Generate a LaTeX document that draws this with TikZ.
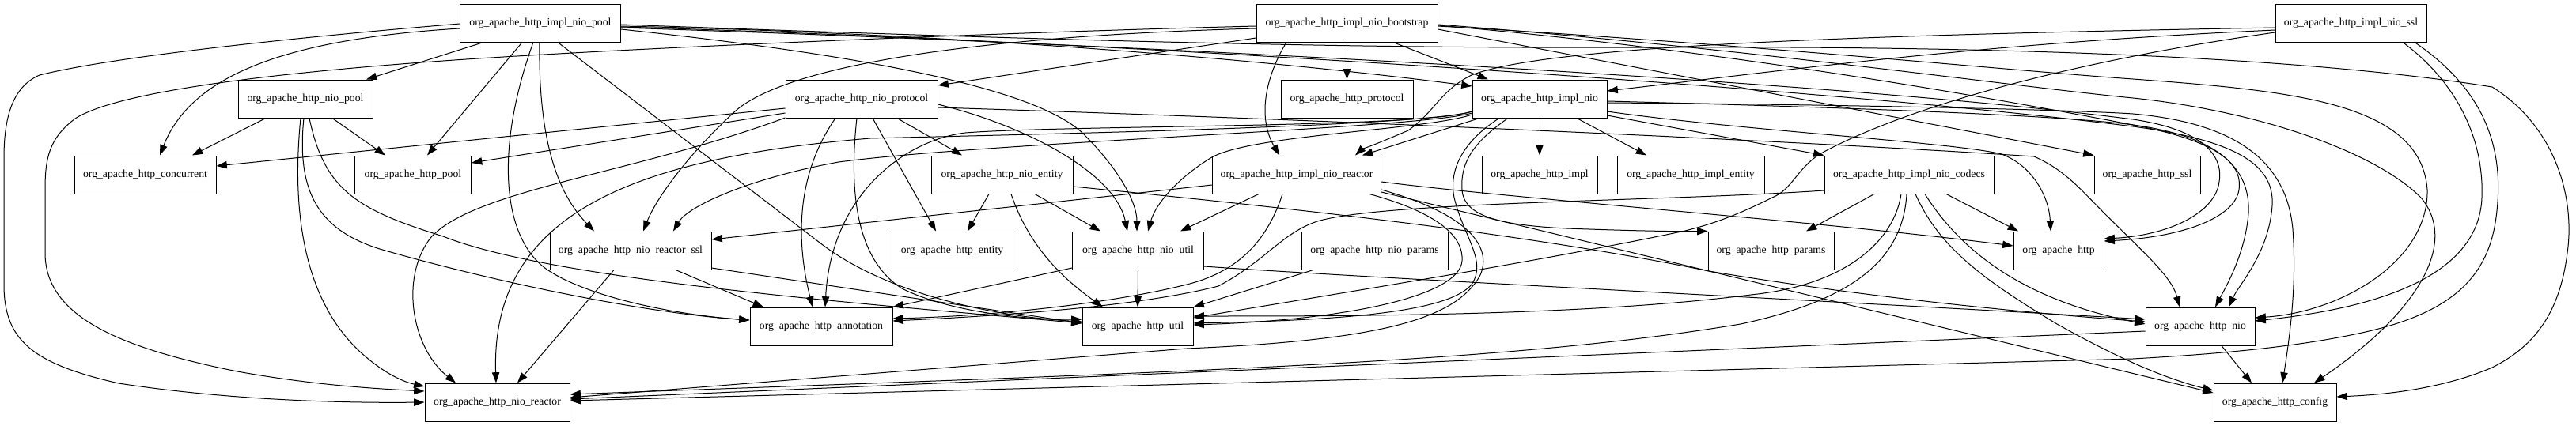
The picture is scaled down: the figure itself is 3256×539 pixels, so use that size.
\documentclass[tikz,border=0pt]{standalone}
\usepackage{fontspec}
\setmainfont{Liberation Serif}
\usetikzlibrary{arrows.meta}
\tikzset{
  pkg/.style={draw=black, line width=0.75pt, rectangle, minimum height=36pt, minimum width=#1, inner sep=0pt, font=\fontsize{10.3}{12}\selectfont},
  dep/.style={draw=black, line width=0.75pt, -{Triangle[length=10pt,width=7pt]}},
}
\begin{document}
\begin{tikzpicture}[x=0.75pt,y=-0.75pt]
\fill[white] (0,0) rectangle (3256,539);
\path[use as bounding box] (0,0) rectangle (3256,539);
% row 0
\node[pkg=152.25pt] (ipool) at (683,29) {org\_apache\_http\_impl\_nio\_pool};
\node[pkg=171.75pt] (iboot) at (1702.5,29) {org\_apache\_http\_impl\_nio\_bootstrap};
\node[pkg=143.25pt] (issl) at (2971.5,29) {org\_apache\_http\_impl\_nio\_ssl};
% row 1
\node[pkg=127.5pt] (npool) at (386,125) {org\_apache\_http\_nio\_pool};
\node[pkg=144pt] (nproto) at (1089,125) {org\_apache\_http\_nio\_protocol};
\node[pkg=125.25pt] (hproto) at (1702.5,125) {org\_apache\_http\_protocol};
\node[pkg=127.5pt] (inio) at (1946,125) {org\_apache\_http\_impl\_nio};
% row 2
\node[pkg=134.25pt] (conc) at (183.5,221) {org\_apache\_http\_concurrent};
\node[pkg=110.25pt] (hpool) at (522,221) {org\_apache\_http\_pool};
\node[pkg=134.25pt] (nent) at (1266.5,221) {org\_apache\_http\_nio\_entity};
\node[pkg=159.75pt] (ireact) at (1639,221) {org\_apache\_http\_impl\_nio\_reactor};
\node[pkg=109.5pt] (himpl) at (1946,221) {org\_apache\_http\_impl};
\node[pkg=139.5pt] (ient) at (2137,221) {org\_apache\_http\_impl\_entity};
\node[pkg=160.5pt] (icodec) at (2413,221) {org\_apache\_http\_impl\_nio\_codecs};
\node[pkg=100.5pt] (hssl) at (2714,221) {org\_apache\_http\_ssl};
% row 3
\node[pkg=153pt] (nrssl) at (797,317) {org\_apache\_http\_nio\_reactor\_ssl};
\node[pkg=114.75pt] (hent) at (1203.5,317) {org\_apache\_http\_entity};
\node[pkg=124.5pt] (nutil) at (1438.5,317) {org\_apache\_http\_nio\_util};
\node[pkg=138.75pt] (nparams) at (1737.5,317) {org\_apache\_http\_nio\_params};
\node[pkg=119.25pt] (hparams) at (2238.5,317) {org\_apache\_http\_params};
\node[pkg=85.5pt] (http) at (2602,317) {org\_apache\_http};
% row 4
\node[pkg=135pt] (annot) at (1038,413) {org\_apache\_http\_annotation};
\node[pkg=105pt] (hutil) at (1438,413) {org\_apache\_http\_util};
\node[pkg=103.5pt] (hnio) at (2781,413) {org\_apache\_http\_nio};
% row 5
\node[pkg=137.25pt] (nreact) at (628.5,509) {org\_apache\_http\_nio\_reactor};
\node[pkg=116.25pt] (hconf) at (2875.5,509) {org\_apache\_http\_config};

% ---- impl_nio_pool
\draw[dep] (ipool.west |- 0,36) .. controls (350,50) and (240,100) .. (conc.north -| 202,0);
\draw[dep] (ipool.west |- 0,30) .. controls (400,45) and (150,70) .. (50,95) .. controls (15,110) and (5,150) .. (5,200) -- (5,360) .. controls (5,430) and (40,460) .. (150,485) .. controls (300,508) and (450,510) .. (nreact.west |- 0,509);
\draw[dep] (ipool.south -| 611,0) -- (npool.north -| 463,0);
\draw[dep] (ipool.south -| 660,0) -- (hpool.north -| 540,0);
\draw[dep] (ipool.south -| 674,0) .. controls (625,190) and (635,300) .. (690,340) .. controls (740,375) and (850,398) .. (annot.west |- 0,405);
\draw[dep] (ipool.south -| 682,0) .. controls (680,200) and (715,255) .. (nrssl.north -| 751,0);
\draw[dep] (ipool.south -| 705,0) -- (1040,310) .. controls (1120,370) and (1250,400) .. (hutil.west |- 0,407);
\draw[dep] (ipool.east |- 0,37) .. controls (1000,60) and (1300,100) .. (1370,170) .. controls (1420,220) and (1437,260) .. (nutil.north -| 1437,0);
\draw[dep] (ipool.east |- 0,33) .. controls (1200,42) and (1600,75) .. (inio.west |- 0,109);
\draw[dep] (ipool.east |- 0,34) .. controls (1400,52) and (2300,110) .. (2696,160) .. controls (2830,178) and (2875,210) .. (2872,260) .. controls (2868,320) and (2830,360) .. (hnio.north -| 2817,0);
\draw[dep] (ipool.east |- 0,31) .. controls (1300,50) and (1700,62) .. (2100,60) .. controls (2500,58) and (2900,70) .. (3150,110) .. controls (3230,160) and (3255,250) .. (3245,320) .. controls (3235,400) and (3200,440) .. (3150,465) .. controls (3080,495) and (3000,500) .. (hconf.east |- 0,502);
\draw[dep] (ipool.east |- 0,35) .. controls (1400,55) and (2300,100) .. (2696,151) .. controls (2790,165) and (2810,200) .. (2805,230) .. controls (2800,270) and (2740,298) .. (http.east |- 0,302);

% ---- impl_nio_bootstrap
\draw[dep] (iboot.west |- 0,33) .. controls (1300,40) and (800,60) .. (560,77) .. controls (350,92) and (150,115) .. (95,150) .. controls (62,175) and (57,200) .. (57,240) -- (57,320) .. controls (57,400) and (150,440) .. (300,470) .. controls (400,488) and (480,492) .. (nreact.west |- 0,495);
\draw[dep] (iboot.west |- 0,36) .. controls (1250,45) and (1000,80) .. (930,140) .. controls (870,195) and (830,250) .. (nrssl.north -| 813,0);
\draw[dep] (iboot.west |- 0,48) -- (nproto.east |- 0,108);
\draw[dep] (iboot.south) -- (hproto.north);
\draw[dep] (iboot.south -| 1761,0) -- (inio.north -| 1881,0);
\draw[dep] (iboot.south -| 1626,0) .. controls (1598,100) and (1590,150) .. (ireact.north -| 1617,0);
\draw[dep] (iboot.east |- 0,33) .. controls (2200,55) and (2550,90) .. (2696,100) .. controls (2900,115) and (3060,130) .. (3068,240) .. controls (3070,330) and (2960,395) .. (hnio.east |- 0,402);
\draw[dep] (iboot.east |- 0,37) -- (hssl.north west);
\draw[dep] (iboot.east |- 0,31) .. controls (2200,60) and (2550,110) .. (2696,124) .. controls (2850,140) and (3000,190) .. (3060,250) .. controls (3110,310) and (3050,400) .. (hconf.north -| 2925,0);
\draw[dep] (iboot.east |- 0,32) .. controls (2200,65) and (2550,130) .. (2696,158) .. controls (2800,178) and (2835,205) .. (2830,240) .. controls (2825,275) and (2760,300) .. (http.east |- 0,305);

% ---- impl_nio_ssl
\draw[dep] (issl.west |- 0,38) .. controls (2500,55) and (2250,90) .. (inio.east |- 0,115);
\draw[dep] (issl.west |- 0,35) .. controls (2300,45) and (1950,60) .. (1860,95) .. controls (1820,115) and (1815,140) .. (1780,165) .. controls (1745,180) and (1720,190) .. (ireact.north -| 1713,0);
\draw[dep] (issl.west |- 0,41) .. controls (2600,80) and (2400,140) .. (2300,195) .. controls (2270,215) and (2265,240) .. (2240,250) .. controls (2200,270) and (2170,282) .. (2130,292) .. controls (1950,330) and (1700,370) .. (hutil.east |- 0,402);
\draw[dep] (issl.south -| 3037,0) .. controls (3100,100) and (3140,170) .. (3137,250) .. controls (3134,330) and (3050,385) .. (hnio.east |- 0,406);
\draw[dep] (issl.south -| 3052,0) .. controls (3150,120) and (3165,200) .. (3155,275) .. controls (3145,350) and (3100,395) .. (2990,420) .. controls (2900,440) and (2800,448) .. (2696,454) -- (nreact.east |- 0,507);

% ---- nio_pool
\draw[dep] (npool.south -| 336,0) -- (conc.north -| 243,0);
\draw[dep] (npool.south -| 420,0) -- (hpool.north -| 487,0);
\draw[dep] (npool.south -| 380,0) .. controls (368,270) and (385,380) .. (455,445) .. controls (480,468) and (505,482) .. (nreact.west |- 0,489);
\draw[dep] (npool.south -| 384,0) .. controls (375,240) and (400,290) .. (480,315) .. controls (600,350) and (800,395) .. (annot.west |- 0,405);
\draw[dep] (npool.south -| 391,0) .. controls (410,240) and (450,265) .. (560,299) .. controls (700,355) and (1100,385) .. (hutil.west |- 0,409);

% ---- nio_protocol
\draw[dep] (nproto.west |- 0,137) -- (conc.east |- 0,210);
\draw[dep] (nproto.west |- 0,143) -- (hpool.east |- 0,206);
\draw[dep] (nproto.west |- 0,149) .. controls (800,220) and (600,240) .. (545,300) .. controls (505,350) and (520,440) .. (nreact.north -| 576,0);
\draw[dep] (nproto.south -| 1056,0) .. controls (1000,230) and (1010,320) .. (annot.north -| 1027,0);
\draw[dep] (nproto.south -| 1083,0) .. controls (1072,250) and (1085,330) .. (1140,365) .. controls (1200,395) and (1300,405) .. (hutil.west |- 0,404);
\draw[dep] (nproto.south -| 1103,0) -- (hent.north -| 1183,0);
\draw[dep] (nproto.south -| 1134,0) -- (nent.north -| 1216,0);
\draw[dep] (nproto.east |- 0,132) .. controls (1300,160) and (1410,220) .. (nutil.north -| 1425,0);
\draw[dep] (nproto.east |- 0,136) .. controls (1700,152) and (2300,180) .. (2571,198) .. controls (2610,215) and (2630,240) .. (2660,270) .. controls (2710,320) and (2745,350) .. (hnio.north -| 2755,0);

% ---- impl_nio
\draw[dep] (inio.south -| 1870,0) -- (ireact.north -| 1722,0);
\draw[dep] (inio.south) -- (himpl.north);
\draw[dep] (inio.south -| 1993,0) -- (ient.north -| 2081,0);
\draw[dep] (inio.east |- 0,146) -- (icodec.north west);
\draw[dep] (inio.south -| 1906,0) .. controls (1870,175) and (1845,200) .. (1848,240) .. controls (1850,275) and (1900,285) .. (1980,289) .. controls (2060,292) and (2120,293) .. (hparams.north west);
\draw[dep] (inio.west |- 0,143) .. controls (1800,162) and (1250,180) .. (1060,205) .. controls (950,225) and (870,260) .. (nrssl.north -| 851,0);
\draw[dep] (inio.west |- 0,141) .. controls (1800,160) and (1300,170) .. (1100,175) .. controls (800,200) and (620,270) .. (nreact.north -| 627,0);
\draw[dep] (inio.west |- 0,141) .. controls (1800,162) and (1350,158) .. (1220,168) .. controls (1140,178) and (1050,250) .. (annot.north -| 1043,0);
\draw[dep] (inio.west |- 0,145) .. controls (1800,165) and (1580,170) .. (1530,200) .. controls (1485,228) and (1460,260) .. (nutil.north -| 1451,0);
\draw[dep] (inio.south -| 1895,0) .. controls (1855,175) and (1830,210) .. (1838,250) .. controls (1850,300) and (1880,330) .. (1860,360) .. controls (1830,395) and (1700,405) .. (hutil.east |- 0,409);
\draw[dep] (inio.east |- 0,141) .. controls (2200,165) and (2470,180) .. (2530,195) .. controls (2570,210) and (2590,250) .. (http.north -| 2592,0);
\draw[dep] (inio.east |- 0,128) .. controls (2300,135) and (2600,145) .. (2696,158) .. controls (2800,172) and (2845,210) .. (2842,270) .. controls (2838,320) and (2815,360) .. (hnio.north -| 2800,0);
\draw[dep] (inio.east |- 0,130) .. controls (2300,132) and (2600,138) .. (2696,144) .. controls (2820,155) and (2890,200) .. (2898,290) .. controls (2903,360) and (2895,420) .. (hconf.north -| 2885,0);

% ---- impl_nio_reactor
\draw[dep] (ireact.west |- 0,234) -- (nrssl.east |- 0,303);
\draw[dep] (ireact.south -| 1591,0) -- (nutil.north -| 1492,0);
\draw[dep] (ireact.south -| 1621,0) .. controls (1600,310) and (1560,345) .. (1500,360) .. controls (1400,385) and (1250,400) .. (annot.east |- 0,403);
\draw[dep] (ireact.south -| 1731,0) .. controls (1820,270) and (1850,300) .. (1848,330) .. controls (1845,375) and (1700,405) .. (hutil.east |- 0,411);
\draw[dep] (ireact.east |- 0,240) .. controls (1870,275) and (1885,320) .. (1870,350) .. controls (1840,400) and (1760,430) .. (1500,441) -- (nreact.east |- 0,503);
\draw[dep] (ireact.east |- 0,230) .. controls (1900,250) and (2300,280) .. (http.west |- 0,311);
\draw[dep] (ireact.east |- 0,243) -- (hconf.west |- 0,497);

% ---- nio_entity
\draw[dep] (nent.south -| 1250,0) -- (hent.north -| 1223,0);
\draw[dep] (nent.south -| 1308,0) -- (nutil.north -| 1391,0);
\draw[dep] (nent.south -| 1278,0) .. controls (1300,310) and (1340,350) .. (hutil.north -| 1394,0);
\draw[dep] (nent.east |- 0,236) .. controls (1700,270) and (1950,300) .. (2160,343) .. controls (2350,375) and (2550,395) .. (hnio.west |- 0,407);

% ---- nio_util, nio_params
\draw[dep] (nutil.south) -- (hutil.north -| 1438,0);
\draw[dep] (nutil.west |- 0,339) -- (annot.north east);
\draw[dep] (nutil.east |- 0,337) .. controls (1700,350) and (2300,380) .. (hnio.west |- 0,404);
\draw[dep] (nparams.south -| 1660,0) -- (hutil.north east);

% ---- impl_nio_codecs
\draw[dep] (icodec.south -| 2369,0) -- (hparams.north -| 2283,0);
\draw[dep] (icodec.south -| 2460,0) -- (http.north -| 2551,0);
\draw[dep] (icodec.west |- 0,241) .. controls (2100,255) and (1750,255) .. (1665,280) .. controls (1620,295) and (1600,330) .. (1540,362) .. controls (1450,385) and (1300,398) .. (annot.east |- 0,406);
\draw[dep] (icodec.south -| 2403,0) .. controls (2395,300) and (2340,360) .. (2213,373) .. controls (2000,400) and (1700,400) .. (hutil.east |- 0,400);
\draw[dep] (icodec.south -| 2410,0) .. controls (2405,330) and (2340,380) .. (2200,410) .. controls (1900,460) and (1500,470) .. (nreact.east |- 0,499);
\draw[dep] (icodec.south -| 2421,0) .. controls (2450,310) and (2500,350) .. (2600,410) .. controls (2680,455) and (2740,480) .. (hconf.west |- 0,494);
\draw[dep] (icodec.south -| 2433,0) .. controls (2480,320) and (2560,380) .. (hnio.west |- 0,410);

% ---- nio_reactor_ssl
\draw[dep] (nrssl.east |- 0,339) -- (hutil.west |- 0,409);
\draw[dep] (nrssl.south -| 854,0) -- (annot.north -| 965,0);
\draw[dep] (nrssl.south -| 776,0) -- (nreact.north -| 654,0);

% ---- nio
\draw[dep] (hnio.south -| 2808,0) -- (hconf.north -| 2846,0);
\draw[dep] (hnio.west |- 0,419) -- (nreact.east |- 0,505);
\end{tikzpicture}
\end{document}
